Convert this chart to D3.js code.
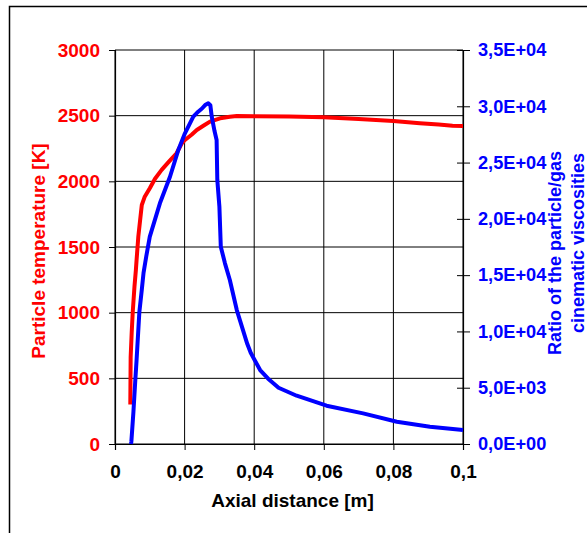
<!DOCTYPE html>
<html><head><meta charset="utf-8">
<script src="https://cdn.jsdelivr.net/npm/d3@7/dist/d3.min.js"></script>
<style>
html,body{margin:0;padding:0;background:#fff;}
svg{display:block;}
text{font-family:"Liberation Sans",Arial,Helvetica,sans-serif;font-weight:bold;}
</style></head>
<body>
<svg id="chart" width="587" height="533"></svg>
<script>
// X axis ticks
const xTicks = [0, 0.02, 0.04, 0.06, 0.08, 0.1];
const xTickLabels = ["0", "0,02", "0,04", "0,06", "0,08", "0,1"];
// Left axis (temperature)
const tTicks = [0, 500, 1000, 1500, 2000, 2500, 3000];
// Right axis (ratio)
const rTicks = [0, 5000, 10000, 15000, 20000, 25000, 30000, 35000];
const rTickLabels = ["0,0E+00","5,0E+03","1,0E+04","1,5E+04","2,0E+04","2,5E+04","3,0E+04","3,5E+04"];

// Particle temperature [K]
const tempX = [0.0044, 0.0045, 0.0048, 0.0051, 0.0056, 0.0060, 0.0062, 0.0067, 0.0072, 0.0077, 0.0085, 0.0100, 0.0115, 0.0134, 0.0155, 0.0177, 0.0192, 0.0201, 0.0220, 0.0235, 0.0255, 0.0273, 0.0302, 0.0330, 0.0350, 0.0400, 0.0500, 0.0600, 0.0700, 0.0800, 0.0876, 0.0930, 0.0970, 0.1000];
const tempY = [300, 662, 850, 1005, 1200, 1325, 1401, 1579, 1700, 1820, 1880, 1947, 2020, 2087, 2150, 2214, 2290, 2315, 2355, 2391, 2425, 2455, 2480, 2492, 2498, 2495, 2493, 2488, 2475, 2460, 2442, 2432, 2424, 2422];

// Ratio of the particle/gas cinematic viscosities
const ratioX = [0.0046, 0.0047, 0.0053, 0.0058, 0.0062, 0.0070, 0.0077, 0.0082, 0.0090, 0.0100, 0.0129, 0.0158, 0.0182, 0.0201, 0.0225, 0.0239, 0.0250, 0.0259, 0.0268, 0.0274, 0.0278, 0.0286, 0.0292, 0.0294, 0.0300, 0.0304, 0.0316, 0.0330, 0.0350, 0.0360, 0.0380, 0.0390, 0.0417, 0.0440, 0.0470, 0.0522, 0.0608, 0.0713, 0.0810, 0.0905, 0.1000];
const ratioY = [0, 200, 2870, 5500, 7460, 11730, 13700, 15200, 16700, 18420, 21380, 23740, 26120, 27600, 29080, 29520, 29800, 30110, 30270, 30100, 29080, 27800, 27000, 23450, 21080, 17530, 16050, 14570, 11900, 10900, 8900, 8100, 6570, 5800, 5000, 4290, 3400, 2720, 1980, 1540, 1240];

const svg = d3.select("#chart");
const L = 115, R = 463, T = 50, B = 444;
const FS = "19px";

const x = d3.scaleLinear().domain([0, 0.1]).range([L, R]);
const yT = d3.scaleLinear().domain([0, 3000]).range([B, T]);
const yR = d3.scaleLinear().domain([0, 35000]).range([B, T]);

// outer frame
svg.append("rect").attr("x", 9.5).attr("y", 6.5).attr("width", 590).attr("height", 560)
  .attr("fill", "none").attr("stroke", "#000").attr("stroke-width", 1.5);

// gridlines
const grid = svg.append("g");
tTicks.forEach(v => grid.append("line").attr("x1", L).attr("x2", R).attr("y1", yT(v)).attr("y2", yT(v))
  .attr("stroke", "#000").attr("stroke-width", 1));
xTicks.forEach(v => grid.append("line").attr("x1", x(v)).attr("x2", x(v)).attr("y1", T).attr("y2", B)
  .attr("stroke", "#000").attr("stroke-width", 1));

// left axis
const gl = svg.append("g").attr("transform", `translate(${L},0)`)
  .call(d3.axisLeft(yT).tickValues(tTicks).tickSize(6).tickPadding(9).tickFormat(d3.format("d")));
gl.selectAll("text").attr("fill", "#ff0000");

// bottom axis
const gb = svg.append("g").attr("transform", `translate(0,${B})`)
  .call(d3.axisBottom(x).tickValues(xTicks).tickSize(6).tickPadding(15).tickFormat((d, i) => xTickLabels[i]));
gb.selectAll("text").attr("fill", "#000");

// right axis
const gr = svg.append("g").attr("transform", `translate(${R},0)`)
  .call(d3.axisRight(yR).tickValues(rTicks).tickSize(7).tickPadding(8).tickFormat((d, i) => rTickLabels[i]));
gr.selectAll(".tick line").attr("x1", -6);
gr.selectAll("text").attr("fill", "#0000ff");

[gl, gb, gr].forEach(g => {
  g.select(".domain").attr("stroke", "#000").attr("stroke-width", 1.2);
  g.selectAll(".tick line").attr("stroke", "#000");
  g.selectAll("text").style("font-family", '"Liberation Sans", Arial, sans-serif')
    .style("font-size", FS).style("font-weight", "bold");
});
gr.selectAll("text").style("font-size", "18.2px");

// lines
const lineT = d3.line().x((d, i) => x(tempX[i])).y(d => yT(d));
const lineR = d3.line().x((d, i) => x(ratioX[i])).y(d => yR(d));

svg.append("path").datum(tempY).attr("d", lineT).attr("fill", "none")
  .attr("stroke", "#ff0000").attr("stroke-width", 4).attr("stroke-linejoin", "round");
svg.append("path").datum(ratioY).attr("d", lineR).attr("fill", "none")
  .attr("stroke", "#0000ff").attr("stroke-width", 4).attr("stroke-linejoin", "round");

// titles
svg.append("text").attr("x", 292.5).attr("y", 507).attr("text-anchor", "middle")
  .attr("fill", "#000").style("font-size", FS).text("Axial distance [m]");

svg.append("text").attr("transform", "translate(45,251) rotate(-90)").attr("text-anchor", "middle")
  .attr("fill", "#ff0000").style("font-size", FS).text("Particle temperature [K]");

svg.append("text").attr("transform", "translate(561,253) rotate(-90)").attr("text-anchor", "middle")
  .attr("fill", "#0000ff").style("font-size", "18px").text("Ratio of the particle/gas");
svg.append("text").attr("transform", "translate(583.5,243) rotate(-90)").attr("text-anchor", "middle")
  .attr("fill", "#0000ff").style("font-size", "18px").text("cinematic viscosities");
</script>
</body></html>
